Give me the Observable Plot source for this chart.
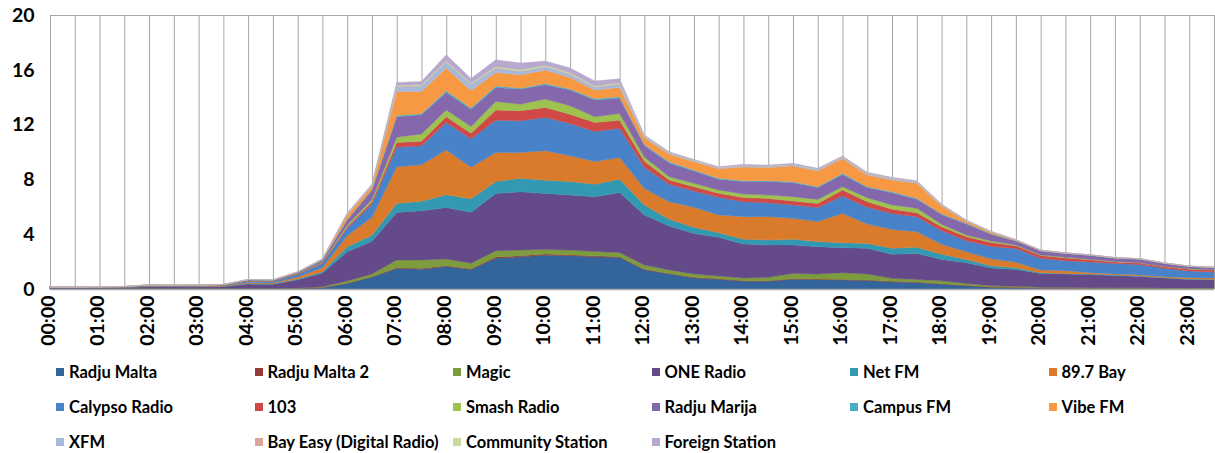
<!DOCTYPE html>
<html>
<head>
<meta charset="utf-8">
<script src="https://cdn.jsdelivr.net/npm/d3@7"></script>
<script src="https://cdn.jsdelivr.net/npm/@observablehq/plot@0.6"></script>
<style>
  html, body { margin: 0; padding: 0; background: #fff; }
  body { width: 1215px; height: 453px; overflow: hidden; font-family: Lato, "Open Sans", sans-serif; }
  #legend { position: relative; width: 1215px; height: 98px; }
  .item { position: absolute; display: flex; align-items: center; height: 20px; font-weight: bold; font-size: 16.5px; color: #000; white-space: nowrap; }
  .sw { width: 8px; height: 8px; margin-right: 5px; flex: none; }
</style>
</head>
<body>
<div id="chart"></div>
<div id="legend"></div>
<script>
// ---- Data ----
const slots = ["00:00","00:30","01:00","01:30","02:00","02:30","03:00","03:30","04:00","04:30","05:00","05:30",
  "06:00","06:30","07:00","07:30","08:00","08:30","09:00","09:30","10:00","10:30","11:00","11:30",
  "12:00","12:30","13:00","13:30","14:00","14:30","15:00","15:30","16:00","16:30","17:00","17:30",
  "18:00","18:30","19:00","19:30","20:00","20:30","21:00","21:30","22:00","22:30","23:00","23:30"];

const hourLabels = ["00:00","01:00","02:00","03:00","04:00","05:00","06:00","07:00","08:00","09:00","10:00","11:00",
  "12:00","13:00","14:00","15:00","16:00","17:00","18:00","19:00","20:00","21:00","22:00","23:00"];

const yTicks = [0, 4, 8, 12, 16, 20];

const series = ["Radju Malta","Radju Malta 2","Magic","ONE Radio","Net FM","89.7 Bay",
  "Calypso Radio","103","Smash Radio","Radju Marija","Campus FM","Vibe FM",
  "XFM","Bay Easy (Digital Radio)","Community Station","Foreign Station"];

const radjuMalta = [0.04,0.04,0.04,0.04,0.04,0.04,0.04,0.04,0.04,0.04,0.05,0.1,0.4,0.87,1.5,1.45,1.65,1.42,2.25,2.35,2.47,2.42,2.35,2.3,1.4,1.1,0.81,0.71,0.57,0.57,0.71,0.69,0.66,0.62,0.52,0.47,0.34,0.24,0.12,0.1,0.05,0.05,0.04,0.04,0.04,0.03,0.03,0.03];
const radjuMalta2 = [0,0,0,0,0,0,0,0,0,0,0,0.01,0.02,0.03,0.05,0.05,0.05,0.05,0.08,0.08,0.08,0.07,0.07,0.06,0.05,0.04,0.04,0.04,0.04,0.04,0.04,0.04,0.04,0.04,0.04,0.04,0.04,0.03,0.03,0.03,0.02,0.02,0.02,0.02,0.02,0.02,0.02,0.02];
const magic = [0,0,0,0,0,0,0,0,0,0,0.02,0.05,0.16,0.2,0.57,0.62,0.49,0.41,0.46,0.41,0.33,0.35,0.32,0.3,0.3,0.25,0.24,0.2,0.19,0.24,0.39,0.36,0.49,0.43,0.22,0.19,0.22,0.14,0.08,0.07,0.05,0.05,0.04,0.04,0.03,0.03,0.03,0.03];
const oneRadio = [0.06,0.06,0.07,0.08,0.12,0.12,0.11,0.14,0.32,0.3,0.6,1.0,2.14,2.38,3.47,3.6,3.76,3.72,4.18,4.25,4.09,4.03,3.99,4.38,3.65,3.21,2.97,2.82,2.48,2.36,2.07,2.0,1.83,1.88,1.75,1.9,1.55,1.51,1.3,1.22,1.02,0.97,0.95,0.88,0.83,0.72,0.62,0.59];
const netFM = [0.01,0.01,0.01,0.01,0.02,0.02,0.02,0.02,0.04,0.04,0.06,0.1,0.37,0.44,0.66,0.68,0.93,0.98,0.87,1.0,0.97,0.97,0.92,0.98,0.73,0.49,0.44,0.34,0.35,0.37,0.42,0.37,0.36,0.36,0.44,0.44,0.39,0.24,0.17,0.14,0.05,0.05,0.04,0.04,0.03,0.03,0.03,0.03];
const bay897 = [0.01,0.01,0.01,0.01,0.03,0.02,0.03,0.03,0.06,0.06,0.15,0.3,0.8,1.31,2.68,2.67,3.27,2.31,2.12,1.87,2.15,1.88,1.66,1.58,1.2,1.28,1.46,1.29,1.65,1.7,1.53,1.46,2.14,1.41,1.38,1.14,0.73,0.56,0.5,0.4,0.2,0.2,0.1,0.08,0.07,0.07,0.1,0.1];
const calypso = [0.02,0.02,0.02,0.03,0.04,0.04,0.04,0.05,0.1,0.1,0.18,0.3,0.54,0.98,1.41,1.38,2.0,2.07,2.36,2.32,2.43,2.36,2.19,2.14,1.55,1.27,1.19,1.29,1.09,1.02,0.97,1.02,1.27,1.22,1.17,1.1,0.98,0.81,0.9,1.0,0.85,0.73,0.78,0.77,0.76,0.61,0.48,0.44];
const r103 = [0,0,0,0,0.01,0.01,0.01,0.01,0.02,0.02,0.03,0.05,0.12,0.15,0.36,0.33,0.42,0.41,0.74,0.73,0.73,0.68,0.65,0.58,0.45,0.32,0.32,0.29,0.3,0.31,0.29,0.31,0.44,0.41,0.3,0.29,0.3,0.29,0.3,0.2,0.2,0.2,0.17,0.1,0.12,0.12,0.14,0.14];
const smash = [0,0,0,0,0,0,0,0,0.01,0.01,0.02,0.04,0.12,0.17,0.37,0.53,0.5,0.49,0.62,0.48,0.61,0.61,0.42,0.49,0.3,0.24,0.24,0.25,0.26,0.25,0.32,0.29,0.24,0.29,0.31,0.32,0.18,0.12,0.1,0.06,0.04,0.04,0.03,0.03,0.02,0.02,0.02,0.02];
const radjuMarija = [0.01,0.01,0.01,0.01,0.03,0.03,0.03,0.03,0.08,0.08,0.1,0.15,0.37,0.68,1.51,1.41,1.28,1.26,1.03,1.1,1.04,1.15,1.22,1.12,0.85,1.0,0.9,0.78,0.91,0.98,1.02,0.86,0.89,0.74,0.9,0.66,0.71,0.8,0.5,0.28,0.3,0.28,0.28,0.25,0.25,0.22,0.17,0.16];
const campusFM = [0,0,0,0,0,0,0,0,0,0,0,0.01,0.03,0.05,0.09,0.08,0.12,0.1,0.1,0.07,0.1,0.08,0.1,0.1,0.07,0.09,0.08,0.07,0.07,0.07,0.07,0.07,0.08,0.07,0.07,0.07,0.06,0.06,0.04,0.02,0.01,0.01,0.01,0.01,0.01,0.01,0.01,0.01];
const vibeFM = [0,0,0,0,0.01,0.01,0.01,0.01,0.02,0.02,0.03,0.06,0.33,0.24,1.75,1.62,1.66,1.26,0.99,0.97,0.98,0.84,0.63,0.68,0.48,0.55,0.6,0.7,1.0,0.96,1.14,1.14,1.07,0.85,0.85,1.09,0.55,0.14,0.1,0.04,0.03,0.02,0.02,0.02,0.02,0.01,0.01,0.01];
const xfm = [0,0,0,0,0,0,0,0,0,0,0,0.01,0.06,0.07,0.35,0.38,0.42,0.44,0.32,0.24,0.24,0.24,0.19,0.24,0.1,0.08,0.07,0.06,0.08,0.08,0.1,0.1,0.1,0.1,0.1,0.1,0.07,0.04,0.03,0.02,0.01,0.01,0.01,0.01,0.01,0.01,0.01,0.01];
const bayEasy = [0,0,0,0,0,0,0,0,0,0,0,0,0.01,0.01,0.03,0.03,0.03,0.03,0.03,0.03,0.03,0.03,0.03,0.03,0.02,0.02,0.02,0.02,0.02,0.02,0.02,0.02,0.02,0.02,0.02,0.02,0.01,0.01,0.01,0.005,0,0,0,0,0,0,0,0];
const community = [0,0,0,0,0,0,0,0,0,0,0,0,0.02,0.02,0.08,0.08,0.07,0.07,0.1,0.1,0.08,0.08,0.07,0.08,0.03,0.03,0.03,0.02,0.02,0.02,0.02,0.02,0.02,0.02,0.02,0.02,0.02,0.01,0.01,0.005,0.005,0,0,0,0,0,0,0];
const foreign = [0,0,0,0.01,0,0,0,0.01,0.01,0.01,0.01,0.02,0.06,0.07,0.2,0.24,0.45,0.34,0.49,0.49,0.31,0.35,0.38,0.28,0.07,0.05,0.05,0.05,0.07,0.06,0.06,0.06,0.06,0.06,0.06,0.06,0.05,0.04,0.02,0.02,0.015,0.01,0.01,0.01,0.01,0,0.01,0.01];

const values = [radjuMalta, radjuMalta2, magic, oneRadio, netFM, bay897, calypso, r103, smash,
  radjuMarija, campusFM, vibeFM, xfm, bayEasy, community, foreign];

// ---- Styles ----
const colors = ["#34649C","#963A38","#7C9C3D","#654A89","#3399B3","#DA7B2B",
  "#4883CA","#CF4A46","#9DC24F","#8567AB","#4BADC7","#F79843",
  "#A6B9DB","#DBA2A0","#C6DAA0","#B8A8CE"];

// long table for the stacked areas
const table = [];
slots.forEach((t, i) => series.forEach((s, k) => table.push({slot: i, time: t, series: s, value: values[k][i]})));

const slotIdx = slots.map((t, i) => i);

const chart = Plot.plot({
  width: 1215,
  height: 355,
  marginLeft: 50,
  marginRight: 1,
  marginTop: 15,
  marginBottom: 66,
  style: {fontFamily: "Lato, 'Open Sans', sans-serif", fontWeight: "bold", fontSize: "19.5px", color: "#000", background: "#fff"},
  x: {type: "linear", domain: [0, slots.length - 1], axis: null},
  y: {domain: [0, 20]},
  color: {domain: series, range: colors},
  marks: [
    Plot.ruleX(slotIdx, {x: d => d, stroke: "#A6A6A6", strokeWidth: 1}),
    Plot.ruleY([20], {stroke: "#A6A6A6", strokeWidth: 1}),
    Plot.areaY(table, {x: "slot", y: "value", z: "series", fill: "series", stroke: "series", strokeWidth: 0.4, order: series}),
    Plot.ruleY([0], {stroke: "#A6A6A6", strokeWidth: 1.5}),
    Plot.axisY({ticks: yTicks, tickSize: 0, tickPadding: 16, label: null, fontSize: 19.5}),
    Plot.text(hourLabels, {x: (d, i) => slots.indexOf(d), text: d => d, frameAnchor: "bottom", rotate: -90,
      textAnchor: "end", lineAnchor: "middle", dy: 6, dx: -2, fontSize: 19.5, fontWeight: "bold", fill: "#000"})
  ]
});
document.getElementById("chart").appendChild(chart);

// ---- Legend (HTML below the SVG) ----
const legend = document.getElementById("legend");
series.forEach((s, k) => {
  const col = k % 6, row = Math.floor(k / 6);
  const item = document.createElement("div");
  item.className = "item";
  item.style.left = (56 + col * 198.5) + "px";
  item.style.top = (7 + row * 35) + "px";
  const sw = document.createElement("span");
  sw.className = "sw";
  sw.style.background = colors[k];
  const tx = document.createElement("span");
  tx.textContent = s;
  item.appendChild(sw);
  item.appendChild(tx);
  legend.appendChild(item);
});
</script>
</body>
</html>
